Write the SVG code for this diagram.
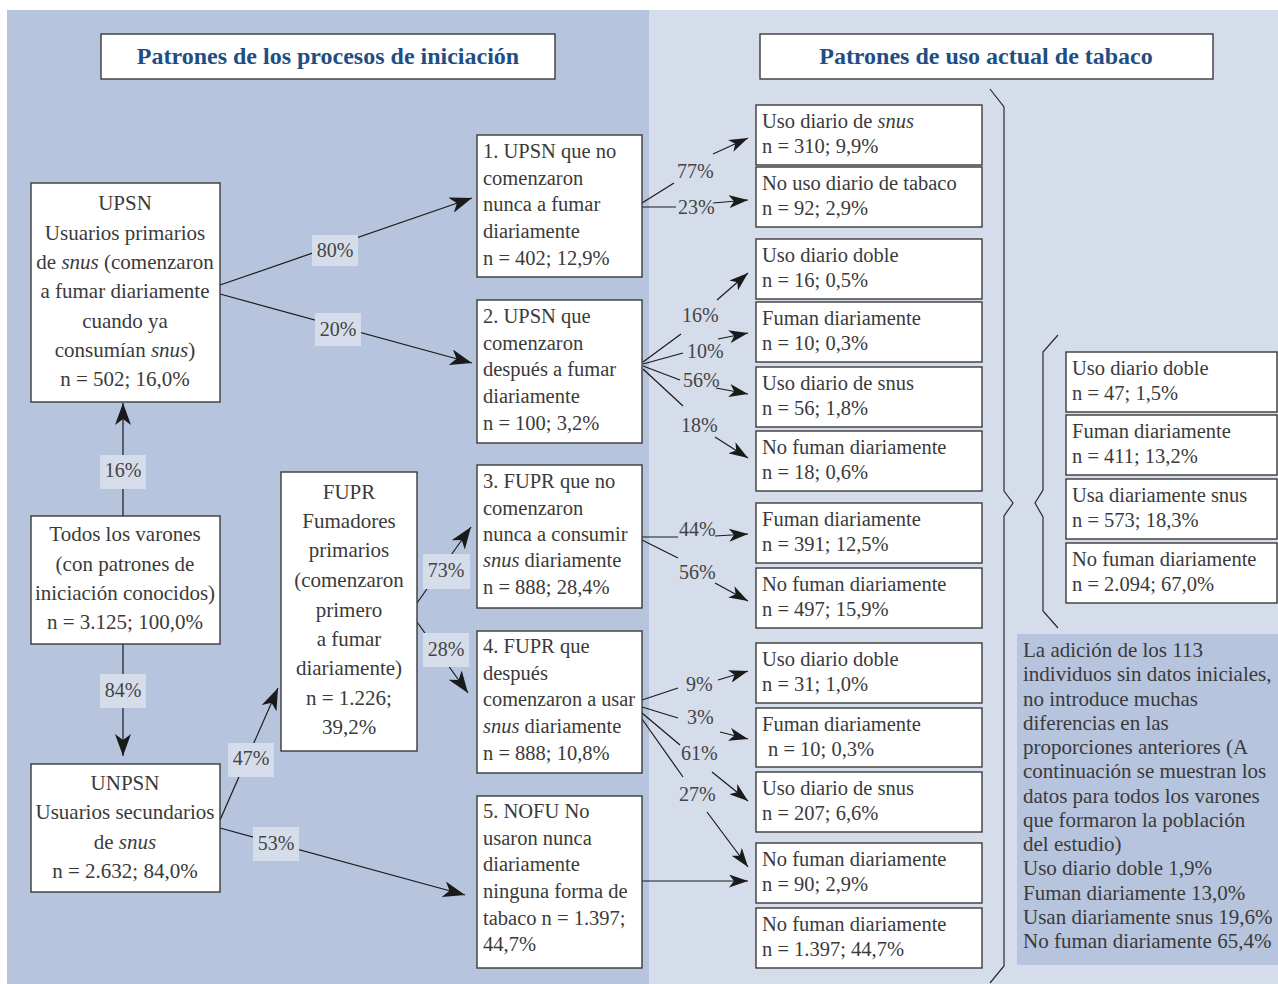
<svg xmlns="http://www.w3.org/2000/svg" width="1278" height="984" viewBox="0 0 1278 984">
<style>
.t{font-family:"Liberation Serif","Times New Roman",serif;font-size:21px;fill:#3a3a3a}
.r{font-size:20.5px}
.c{text-anchor:middle}
.i{font-style:italic}
.box{fill:#fff;stroke:#3a3a3a;stroke-width:1.4}
.hd{font-family:"Liberation Serif","Times New Roman",serif;font-size:24px;font-weight:bold;fill:#1f4e85;text-anchor:middle}
.ln{stroke:#1a1a1a;stroke-width:1.2;fill:none}
.lb{fill:#d5dcea}
.p{font-family:"Liberation Serif","Times New Roman",serif;font-size:20px;fill:#444}
.br{stroke:#2a2a2a;stroke-width:1.2;fill:none}
</style>
<defs>
<marker id="ah" markerUnits="userSpaceOnUse" markerWidth="24" markerHeight="16" refX="22" refY="8" orient="auto"><path d="M0,0 L22,8 L0,16 L6,8 z" fill="#1a1a1a"/></marker>
<marker id="as" markerUnits="userSpaceOnUse" markerWidth="20" markerHeight="13" refX="19" refY="6.5" orient="auto"><path d="M0,0 L19,6.5 L0,13 L5,6.5 z" fill="#1a1a1a"/></marker>
</defs>
<rect x="7" y="10" width="642" height="974" fill="#b7c4dd"/>
<rect x="649" y="10" width="629" height="974" fill="#d5dcea"/>

<g id="hdr-left"><rect class="box" x="101" y="34" width="454" height="45"/><text class="hd" x="328" y="64">Patrones de los procesos de iniciación</text></g>
<g id="hdr-right"><rect class="box" x="760" y="34" width="453" height="45"/><text class="hd" x="986" y="64">Patrones de uso actual de tabaco</text></g>

<g id="braces">
<path class="br" d="M990,89 L1004,107 L1004,491 L1013,503 L1004,516 L1004,966 L990,983"/>
<path class="br" d="M1058,335 L1043,352 L1043,490 L1035,503 L1043,517 L1043,611 L1058,628"/>
</g>

<g id="connectors">
<line class="ln" x1="123" y1="516" x2="123" y2="403" marker-end="url(#ah)"/>
<line class="ln" x1="123" y1="644" x2="123" y2="756" marker-end="url(#ah)"/>
<line class="ln" x1="220" y1="285" x2="472" y2="198" marker-end="url(#ah)"/>
<line class="ln" x1="220" y1="294" x2="472" y2="363" marker-end="url(#ah)"/>
<line class="ln" x1="220" y1="820" x2="278" y2="688" marker-end="url(#ah)"/>
<line class="ln" x1="220" y1="828" x2="465" y2="895" marker-end="url(#ah)"/>
<line class="ln" x1="417" y1="603" x2="471" y2="527" marker-end="url(#ah)"/>
<line class="ln" x1="417" y1="622" x2="468" y2="693" marker-end="url(#ah)"/>
<rect class="lb" x="100" y="455" width="46" height="34"/><text class="p c" x="123" y="477">16%</text>
<rect class="lb" x="100" y="674" width="46" height="34"/><text class="p c" x="123" y="697">84%</text>
<rect class="lb" x="312" y="235" width="46" height="31"/><text class="p c" x="335" y="257">80%</text>
<rect class="lb" x="315" y="313" width="46" height="33"/><text class="p c" x="338" y="336">20%</text>
<rect class="lb" x="228" y="743" width="46" height="34"/><text class="p c" x="251" y="765">47%</text>
<rect class="lb" x="253" y="827" width="46" height="34"/><text class="p c" x="276" y="850">53%</text>
<rect class="lb" x="423" y="554" width="47" height="35"/><text class="p c" x="446" y="577">73%</text>
<rect class="lb" x="423" y="633" width="46" height="34"/><text class="p c" x="446" y="656">28%</text>

<line class="ln" x1="642" y1="203" x2="674" y2="183"/><text class="p" x="677" y="178">77%</text><line class="ln" x1="713" y1="154" x2="748" y2="138" marker-end="url(#as)"/>
<line class="ln" x1="642" y1="207" x2="676" y2="207"/><text class="p" x="678" y="214">23%</text><line class="ln" x1="713" y1="203" x2="748" y2="200" marker-end="url(#as)"/>

<line class="ln" x1="643" y1="362" x2="681" y2="334"/><text class="p" x="682" y="322">16%</text><line class="ln" x1="717" y1="300" x2="748" y2="273" marker-end="url(#as)"/>
<line class="ln" x1="643" y1="364" x2="683" y2="353"/><text class="p" x="687" y="358">10%</text><line class="ln" x1="718" y1="339" x2="748" y2="333" marker-end="url(#as)"/>
<line class="ln" x1="643" y1="366" x2="680" y2="380"/><text class="p" x="683" y="387">56%</text><line class="ln" x1="716" y1="388" x2="748" y2="394" marker-end="url(#as)"/>
<line class="ln" x1="643" y1="369" x2="683" y2="406"/><text class="p" x="681" y="432">18%</text><line class="ln" x1="715" y1="437" x2="748" y2="458" marker-end="url(#as)"/>

<line class="ln" x1="642" y1="537" x2="678" y2="537"/><text class="p" x="679" y="536">44%</text><line class="ln" x1="715" y1="536" x2="748" y2="534" marker-end="url(#as)"/>
<line class="ln" x1="642" y1="540" x2="678" y2="558"/><text class="p" x="679" y="579">56%</text><line class="ln" x1="715" y1="583" x2="748" y2="601" marker-end="url(#as)"/>

<line class="ln" x1="642" y1="700" x2="678" y2="688"/><text class="p" x="686" y="691">9%</text><line class="ln" x1="718" y1="680" x2="748" y2="671" marker-end="url(#as)"/>
<line class="ln" x1="642" y1="707" x2="678" y2="718"/><text class="p" x="687" y="724">3%</text><line class="ln" x1="720" y1="732" x2="748" y2="739" marker-end="url(#as)"/>
<line class="ln" x1="642" y1="713" x2="680" y2="745"/><text class="p" x="681" y="760">61%</text><line class="ln" x1="712" y1="772" x2="748" y2="801" marker-end="url(#as)"/>
<line class="ln" x1="642" y1="719" x2="683" y2="777"/><text class="p" x="679" y="801">27%</text><line class="ln" x1="707" y1="812" x2="748" y2="867" marker-end="url(#as)"/>
<line class="ln" x1="642" y1="881" x2="748" y2="881" marker-end="url(#as)"/>
</g>

<g id="n-upsn"><rect class="box" x="31" y="183" width="189" height="219"/>
<text class="t c" x="125" y="210">UPSN</text>
<text class="t c" x="125" y="240">Usuarios primarios</text>
<text class="t c" x="125" y="269">de <tspan class="i">snus</tspan> (comenzaron</text>
<text class="t c" x="125" y="298">a fumar diariamente</text>
<text class="t c" x="125" y="328">cuando ya</text>
<text class="t c" x="125" y="357">consumían <tspan class="i">snus</tspan>)</text>
<text class="t c" x="125" y="386">n = 502; 16,0%</text></g>

<g id="n-todos"><rect class="box" x="31" y="516" width="189" height="128"/>
<text class="t c" x="125" y="541">Todos los varones</text>
<text class="t c" x="125" y="571">(con patrones de</text>
<text class="t c" x="125" y="600">iniciación conocidos)</text>
<text class="t c" x="125" y="629">n = 3.125; 100,0%</text></g>

<g id="n-unpsn"><rect class="box" x="31" y="764" width="189" height="128"/>
<text class="t c" x="125" y="790">UNPSN</text>
<text class="t c" x="125" y="819">Usuarios secundarios</text>
<text class="t c" x="125" y="849">de <tspan class="i">snus</tspan></text>
<text class="t c" x="125" y="878">n = 2.632; 84,0%</text></g>

<g id="n-fupr"><rect class="box" x="281" y="472" width="136" height="279"/>
<text class="t c" x="349" y="499">FUPR</text>
<text class="t c" x="349" y="528">Fumadores</text>
<text class="t c" x="349" y="557">primarios</text>
<text class="t c" x="349" y="587">(comenzaron</text>
<text class="t c" x="349" y="617">primero</text>
<text class="t c" x="349" y="646">a fumar</text>
<text class="t c" x="349" y="675">diariamente)</text>
<text class="t c" x="349" y="705">n = 1.226;</text>
<text class="t c" x="349" y="734">39,2%</text></g>

<g id="n-1"><rect class="box" x="477" y="135" width="165" height="142"/>
<text class="t r" x="483" y="158">1. UPSN que no</text>
<text class="t r" x="483" y="185">comenzaron</text>
<text class="t r" x="483" y="211">nunca a fumar</text>
<text class="t r" x="483" y="238">diariamente</text>
<text class="t r" x="483" y="265">n = 402; 12,9%</text></g>

<g id="n-2"><rect class="box" x="477" y="300" width="165" height="143"/>
<text class="t r" x="483" y="323">2. UPSN que</text>
<text class="t r" x="483" y="350">comenzaron</text>
<text class="t r" x="483" y="376">después a fumar</text>
<text class="t r" x="483" y="403">diariamente</text>
<text class="t r" x="483" y="430">n = 100; 3,2%</text></g>

<g id="n-3"><rect class="box" x="477" y="465" width="165" height="143"/>
<text class="t r" x="483" y="488">3. FUPR que no</text>
<text class="t r" x="483" y="515">comenzaron</text>
<text class="t r" x="483" y="541">nunca a consumir</text>
<text class="t r" x="483" y="567"><tspan class="i">snus</tspan> diariamente</text>
<text class="t r" x="483" y="594">n = 888; 28,4%</text></g>

<g id="n-4"><rect class="box" x="477" y="631" width="165" height="142"/>
<text class="t r" x="483" y="653">4. FUPR que</text>
<text class="t r" x="483" y="680">después</text>
<text class="t r" x="483" y="706" textLength="152" lengthAdjust="spacingAndGlyphs">comenzaron a usar</text>
<text class="t r" x="483" y="733"><tspan class="i">snus</tspan> diariamente</text>
<text class="t r" x="483" y="760">n = 888; 10,8%</text></g>

<g id="n-5"><rect class="box" x="477" y="796" width="165" height="172"/>
<text class="t r" x="483" y="818">5. NOFU No</text>
<text class="t r" x="483" y="845">usaron nunca</text>
<text class="t r" x="483" y="871">diariamente</text>
<text class="t r" x="483" y="898">ninguna forma de</text>
<text class="t r" x="483" y="925">tabaco n = 1.397;</text>
<text class="t r" x="483" y="951">44,7%</text></g>

<g id="r-a"><rect class="box" x="756" y="105" width="226" height="60"/><text class="t r" x="762" y="128">Uso diario de <tspan class="i">snus</tspan></text><text class="t r" x="762" y="153">n = 310; 9,9%</text></g>
<g id="r-b"><rect class="box" x="756" y="167" width="226" height="60"/><text class="t r" x="762" y="190">No uso diario de tabaco</text><text class="t r" x="762" y="215">n = 92; 2,9%</text></g>
<g id="r-c"><rect class="box" x="756" y="239" width="226" height="60"/><text class="t r" x="762" y="262">Uso diario doble</text><text class="t r" x="762" y="287">n = 16; 0,5%</text></g>
<g id="r-d"><rect class="box" x="756" y="302" width="226" height="60"/><text class="t r" x="762" y="325">Fuman diariamente</text><text class="t r" x="762" y="350">n = 10; 0,3%</text></g>
<g id="r-e"><rect class="box" x="756" y="367" width="226" height="60"/><text class="t r" x="762" y="390">Uso diario de snus</text><text class="t r" x="762" y="415">n = 56; 1,8%</text></g>
<g id="r-f"><rect class="box" x="756" y="431" width="226" height="60"/><text class="t r" x="762" y="454">No fuman diariamente</text><text class="t r" x="762" y="479">n = 18; 0,6%</text></g>
<g id="r-g"><rect class="box" x="756" y="503" width="226" height="60"/><text class="t r" x="762" y="526">Fuman diariamente</text><text class="t r" x="762" y="551">n = 391; 12,5%</text></g>
<g id="r-h"><rect class="box" x="756" y="568" width="226" height="60"/><text class="t r" x="762" y="591">No fuman diariamente</text><text class="t r" x="762" y="616">n = 497; 15,9%</text></g>
<g id="r-i"><rect class="box" x="756" y="643" width="226" height="60"/><text class="t r" x="762" y="666">Uso diario doble</text><text class="t r" x="762" y="691">n = 31; 1,0%</text></g>
<g id="r-j"><rect class="box" x="756" y="708" width="226" height="59"/><text class="t r" x="762" y="731">Fuman diariamente</text><text class="t r" x="768" y="756">n = 10; 0,3%</text></g>
<g id="r-k"><rect class="box" x="756" y="772" width="226" height="60"/><text class="t r" x="762" y="795">Uso diario de snus</text><text class="t r" x="762" y="820">n = 207; 6,6%</text></g>
<g id="r-l"><rect class="box" x="756" y="843" width="226" height="60"/><text class="t r" x="762" y="866">No fuman diariamente</text><text class="t r" x="762" y="891">n = 90; 2,9%</text></g>
<g id="r-m"><rect class="box" x="756" y="908" width="226" height="60"/><text class="t r" x="762" y="931">No fuman diariamente</text><text class="t r" x="762" y="956">n = 1.397; 44,7%</text></g>

<g id="s-1"><rect class="box" x="1066" y="352" width="211" height="60"/><text class="t r" x="1072" y="375">Uso diario doble</text><text class="t r" x="1072" y="400">n = 47; 1,5%</text></g>
<g id="s-2"><rect class="box" x="1066" y="415" width="211" height="60"/><text class="t r" x="1072" y="438">Fuman diariamente</text><text class="t r" x="1072" y="463">n = 411; 13,2%</text></g>
<g id="s-3"><rect class="box" x="1066" y="479" width="211" height="60"/><text class="t r" x="1072" y="502">Usa diariamente snus</text><text class="t r" x="1072" y="527">n = 573; 18,3%</text></g>
<g id="s-4"><rect class="box" x="1066" y="543" width="211" height="60"/><text class="t r" x="1072" y="566">No fuman diariamente</text><text class="t r" x="1072" y="591">n = 2.094; 67,0%</text></g>

<g id="note"><rect x="1017" y="634" width="261" height="331" fill="#b7c4dd"/>
<text class="t" x="1023" y="657">La adición de los 113</text>
<text class="t" x="1023" y="681">individuos sin datos iniciales,</text>
<text class="t" x="1023" y="706">no introduce muchas</text>
<text class="t" x="1023" y="730">diferencias en las</text>
<text class="t" x="1023" y="754">proporciones anteriores (A</text>
<text class="t" x="1023" y="778">continuación se muestran los</text>
<text class="t" x="1023" y="803">datos para todos los varones</text>
<text class="t" x="1023" y="827">que formaron la población</text>
<text class="t" x="1023" y="851">del estudio)</text>
<text class="t" x="1023" y="875">Uso diario doble 1,9%</text>
<text class="t" x="1023" y="900">Fuman diariamente 13,0%</text>
<text class="t" x="1023" y="924">Usan diariamente snus 19,6%</text>
<text class="t" x="1023" y="948">No fuman diariamente 65,4%</text></g>
</svg>
